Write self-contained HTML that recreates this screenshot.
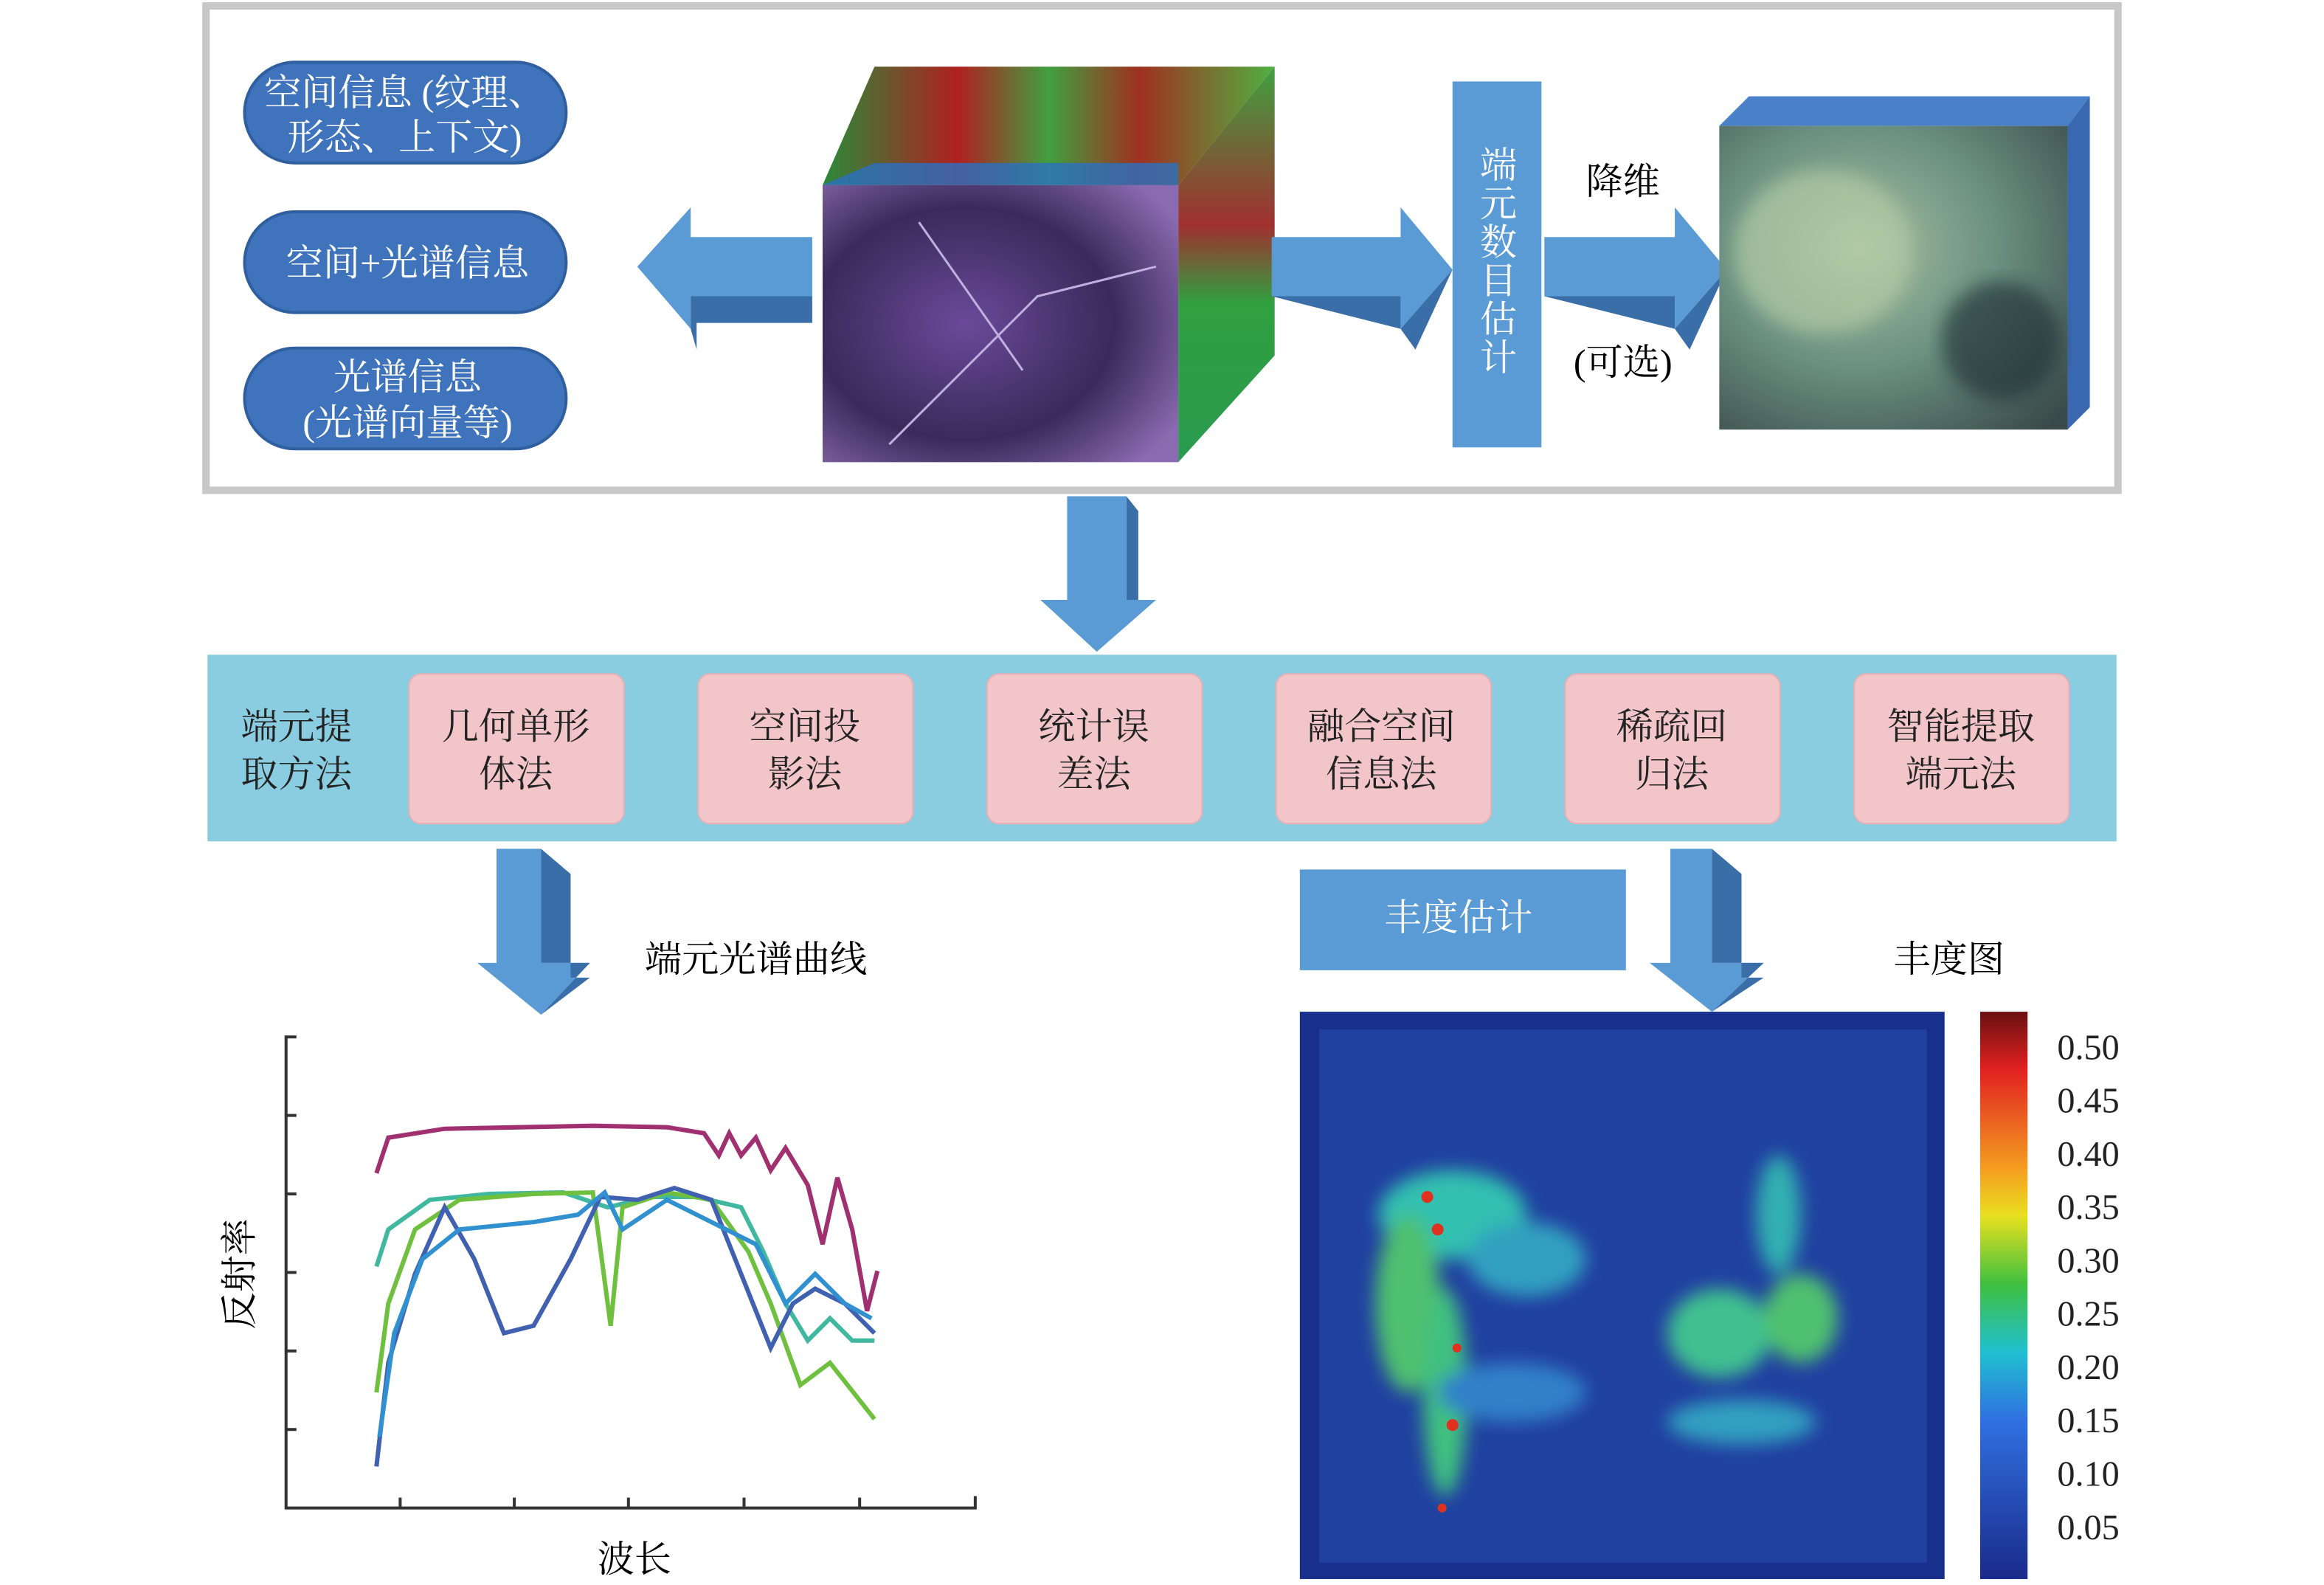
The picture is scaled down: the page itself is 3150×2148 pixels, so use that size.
<!DOCTYPE html>
<html><head><meta charset="utf-8">
<style>
html,body{margin:0;padding:0;background:#fff;}
svg{display:block;}
text{font-family:"Liberation Serif","Noto Serif CJK SC","Noto Sans CJK SC",serif;}
</style></head>
<body>
<svg width="3150" height="2148" viewBox="0 0 1568 1070" preserveAspectRatio="none" xmlns="http://www.w3.org/2000/svg">
<defs>
<linearGradient id="cb" x1="0" y1="0" x2="0" y2="1">
<stop offset="0" stop-color="#6a0f10"/><stop offset="0.1" stop-color="#e02020"/>
<stop offset="0.28" stop-color="#f5a020"/><stop offset="0.36" stop-color="#e8e020"/>
<stop offset="0.48" stop-color="#40c040"/><stop offset="0.6" stop-color="#20c0d0"/>
<stop offset="0.72" stop-color="#3070e0"/><stop offset="1" stop-color="#1a2a8a"/>
</linearGradient>
<linearGradient id="top1" x1="0" y1="0" x2="1" y2="0">
<stop offset="0" stop-color="#2a8a3a"/><stop offset="0.3" stop-color="#b02020"/>
<stop offset="0.5" stop-color="#40a040"/><stop offset="0.7" stop-color="#a03020"/><stop offset="1" stop-color="#50b040"/>
</linearGradient>
<linearGradient id="side1" x1="0" y1="0" x2="0" y2="1">
<stop offset="0" stop-color="#40a040"/><stop offset="0.4" stop-color="#a03030"/>
<stop offset="0.6" stop-color="#30a040"/><stop offset="1" stop-color="#2a9a50"/>
</linearGradient>
<radialGradient id="front1" cx="0.4" cy="0.5" r="0.7">
<stop offset="0" stop-color="#6a4a9a"/><stop offset="0.6" stop-color="#3a2a5a"/><stop offset="1" stop-color="#8a6ab0"/>
</radialGradient>
<radialGradient id="front2" cx="0.4" cy="0.4" r="0.8">
<stop offset="0" stop-color="#a8c0a0"/><stop offset="0.5" stop-color="#6a9080"/><stop offset="1" stop-color="#3a4a4a"/>
</radialGradient>
<filter id="bl"><feGaussianBlur stdDeviation="6"/></filter>
</defs>

<rect x="139" y="4" width="1290" height="327" fill="#fff" stroke="#c8c8c8" stroke-width="5"/>

<g fill="#3f74bd" stroke="#2f5f9f" stroke-width="2">
<rect x="165" y="42" width="217" height="68" rx="34"/>
<rect x="165" y="143" width="217" height="68" rx="34"/>
<rect x="165" y="235" width="217" height="68" rx="34"/>
</g>
<g fill="#fff" font-size="25" text-anchor="middle">
<text x="273" y="71">空间信息 (纹理、</text>
<text x="273" y="101">形态、上下文)</text>
<text x="275" y="186">空间+光谱信息</text>
<text x="275" y="263">光谱信息</text>
<text x="275" y="294">(光谱向量等)</text>
</g>

<polygon points="548,160 466,160 466,140 430,180 466,222 466,200 548,200" fill="#5b9bd5"/>
<polygon points="548,200 466,200 466,222 470,236 470,218 548,218" fill="#3a6ea8"/>

<polygon points="555,125 590,45 860,45 795,125" fill="url(#top1)"/>
<polygon points="795,125 860,45 860,240 795,312" fill="url(#side1)"/>
<rect x="555" y="125" width="240" height="187" fill="url(#front1)"/>
<path d="M600,300 L700,200 L780,180 M620,150 L690,250" stroke="#c0b0e0" stroke-width="1.5" fill="none"/>
<polygon points="555,125 590,110 795,110 795,125" fill="#2a70c0" opacity="0.8"/>

<polygon points="858,160 945,160 945,140 980,182 945,222 945,200 858,200" fill="#5b9bd5"/>
<polygon points="858,200 945,200 945,222 955,236 980,182 945,222" fill="#3a6ea8"/>

<rect x="980" y="55" width="60" height="247" fill="#5b9bd5"/>
<g fill="#fff" font-size="25" text-anchor="middle">
<text x="1011" y="120">端</text><text x="1011" y="146">元</text><text x="1011" y="172">数</text>
<text x="1011" y="198">目</text><text x="1011" y="224">估</text><text x="1011" y="250">计</text>
</g>
<text x="1095" y="131" font-size="25" text-anchor="middle">降维</text>
<text x="1095" y="253" font-size="25" text-anchor="middle">(可选)</text>
<polygon points="1042,160 1130,160 1130,140 1165,182 1130,222 1130,200 1042,200" fill="#5b9bd5"/>
<polygon points="1042,200 1130,200 1130,222 1140,236 1165,182 1130,222" fill="#3a6ea8"/>

<polygon points="1160,85 1180,65 1410,65 1395,85" fill="#4a80c8"/>
<polygon points="1395,85 1410,65 1410,275 1395,290" fill="#3a68b0"/>
<rect x="1160" y="85" width="235" height="205" fill="url(#front2)"/>
<ellipse cx="1230" cy="170" rx="60" ry="55" fill="#b8d0a8" opacity="0.6" filter="url(#bl)"/>
<ellipse cx="1350" cy="230" rx="40" ry="40" fill="#1a2a30" opacity="0.6" filter="url(#bl)"/>

<polygon points="720,335 760,335 760,405 780,405 740,440 702,405 720,405" fill="#5b9bd5"/>
<polygon points="760,335 768,345 768,405 780,405 760,405" fill="#3a6ea8"/>

<rect x="140" y="442" width="1288" height="126" fill="#8acde0"/>
<g font-size="25" text-anchor="middle" fill="#222">
<text x="200" y="499">端元提</text><text x="200" y="531">取方法</text>
</g>
<g fill="#f2c6c9" stroke="#e8b0b5" stroke-width="1">
<rect x="276" y="455" width="145" height="101" rx="8"/>
<rect x="471" y="455" width="145" height="101" rx="8"/>
<rect x="666" y="455" width="145" height="101" rx="8"/>
<rect x="861" y="455" width="145" height="101" rx="8"/>
<rect x="1056" y="455" width="145" height="101" rx="8"/>
<rect x="1251" y="455" width="145" height="101" rx="8"/>
</g>
<g font-size="25" text-anchor="middle" fill="#222">
<text x="348" y="499">几何单形</text><text x="348" y="531">体法</text>
<text x="543" y="499">空间投</text><text x="543" y="531">影法</text>
<text x="738" y="499">统计误</text><text x="738" y="531">差法</text>
<text x="932" y="499">融合空间</text><text x="932" y="531">信息法</text>
<text x="1128" y="499">稀疏回</text><text x="1128" y="531">归法</text>
<text x="1323" y="499">智能提取</text><text x="1323" y="531">端元法</text>
</g>

<polygon points="335,573 365,573 365,650 398,650 365,685 322,650 335,650" fill="#5b9bd5"/>
<polygon points="365,573 385,590 385,660 398,660 365,685 398,650 365,650" fill="#3a6ea8"/>
<text x="510" y="656" font-size="25" text-anchor="middle">端元光谱曲线</text>

<rect x="877" y="587" width="220" height="68" fill="#5b9bd5"/>
<text x="984" y="628" font-size="25" text-anchor="middle" fill="#fff">丰度估计</text>
<polygon points="1127,573 1155,573 1155,650 1190,650 1155,683 1113,650 1127,650" fill="#5b9bd5"/>
<polygon points="1155,573 1175,590 1175,660 1190,660 1155,683 1190,650 1155,650" fill="#3a6ea8"/>
<text x="1315" y="656" font-size="25" text-anchor="middle">丰度图</text>

<g stroke="#333" stroke-width="2" fill="none">
<polyline points="200,700 193,700 193,1018 658,1018 658,1010"/>
<line x1="193" y1="753" x2="200" y2="753"/><line x1="193" y1="806" x2="200" y2="806"/>
<line x1="193" y1="859" x2="200" y2="859"/><line x1="193" y1="912" x2="200" y2="912"/>
<line x1="193" y1="965" x2="200" y2="965"/>
<line x1="270" y1="1018" x2="270" y2="1011"/><line x1="347" y1="1018" x2="347" y2="1011"/>
<line x1="424" y1="1018" x2="424" y2="1011"/><line x1="502" y1="1018" x2="502" y2="1011"/>
<line x1="580" y1="1018" x2="580" y2="1011"/>
</g>
<text x="0" y="0" font-size="25" text-anchor="middle" transform="translate(170,860) rotate(-90)">反射率</text>
<text x="428" y="1061" font-size="25" text-anchor="middle">波长</text>
<g fill="none" stroke-width="3">
<path d="M254,792 L262,768 L300,762 L350,761 L400,760 L450,761 L475,765 L485,780 L492,765 L500,780 L510,768 L520,790 L530,775 L545,800 L555,840 L565,795 L575,830 L585,885 L592,858" stroke="#a03070"/>
<path d="M254,855 L262,830 L290,810 L330,806 L380,805 L410,815 L440,808 L470,808 L500,815 L515,845 L530,880 L545,905 L560,890 L575,905 L590,905" stroke="#40b8a0"/>
<path d="M254,940 L262,880 L280,830 L310,810 L360,806 L400,805 L412,895 L420,815 L450,805 L480,810 L505,845 L520,880 L540,935 L560,920 L590,958" stroke="#70c040"/>
<path d="M254,990 L262,920 L280,860 L300,815 L320,850 L340,900 L360,895 L385,850 L405,808 L430,810 L455,802 L480,810 L500,860 L520,910 L535,880 L550,870 L570,880 L590,900" stroke="#4060b0"/>
<path d="M256,970 L266,900 L285,850 L310,830 L360,825 L390,820 L408,805 L420,830 L450,810 L490,830 L510,840 L530,880 L550,860 L570,880 L588,890" stroke="#3090d0"/>
</g>

<rect x="877" y="683" width="435" height="383" fill="#18308c"/>
<rect x="890" y="695" width="410" height="360" fill="#2448a8" opacity="0.7"/>
<g filter="url(#bl)">
<ellipse cx="980" cy="820" rx="50" ry="30" fill="#30c0b0"/>
<ellipse cx="950" cy="880" rx="22" ry="60" fill="#50c070"/>
<ellipse cx="975" cy="940" rx="15" ry="70" fill="#40c080"/>
<ellipse cx="1030" cy="850" rx="40" ry="25" fill="#30a0c0"/>
<ellipse cx="1160" cy="900" rx="35" ry="30" fill="#40c090"/>
<ellipse cx="1215" cy="890" rx="25" ry="30" fill="#50c070"/>
<ellipse cx="1200" cy="820" rx="15" ry="40" fill="#30b0b0"/>
<ellipse cx="1175" cy="960" rx="50" ry="15" fill="#30a0c0"/>
<ellipse cx="1020" cy="940" rx="50" ry="20" fill="#3080c8"/>
</g>
<g fill="#e03020">
<circle cx="963" cy="808" r="4"/><circle cx="970" cy="830" r="4"/><circle cx="983" cy="910" r="3"/>
<circle cx="980" cy="962" r="4"/><circle cx="973" cy="1018" r="3"/>
</g>

<rect x="1336" y="683" width="32" height="383" fill="url(#cb)"/>
<g font-size="24" fill="#222">
<text x="1388" y="715">0.50</text><text x="1388" y="751">0.45</text><text x="1388" y="787">0.40</text>
<text x="1388" y="823">0.35</text><text x="1388" y="859">0.30</text><text x="1388" y="895">0.25</text>
<text x="1388" y="931">0.20</text><text x="1388" y="967">0.15</text><text x="1388" y="1003">0.10</text>
<text x="1388" y="1039">0.05</text>
</g>
</svg>
</body></html>
